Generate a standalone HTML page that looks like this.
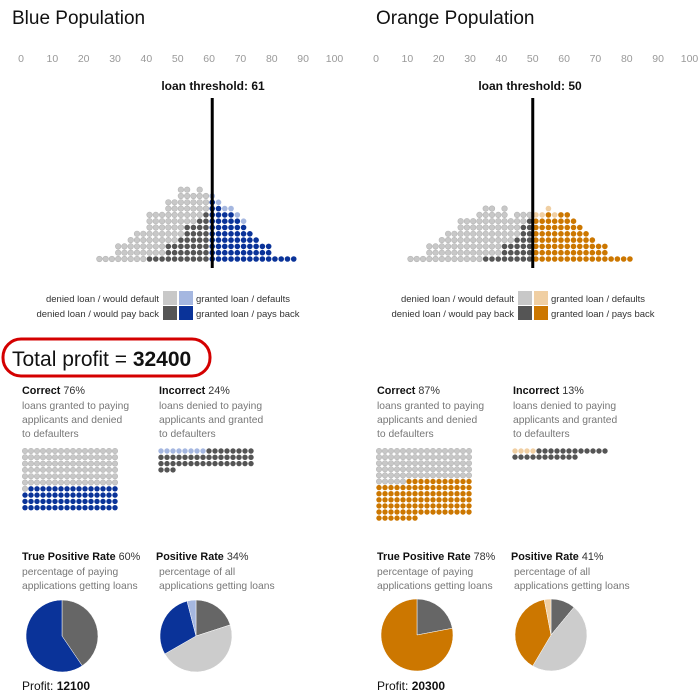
<!DOCTYPE html>
<html><head><meta charset="utf-8"><style>
html,body{margin:0;padding:0;background:#fff;}
svg{display:block;font-family:"Liberation Sans",sans-serif;}
.t{font-size:19px;fill:#111}
.ax{font-size:10.5px;fill:#999}
.th{font-size:12px;font-weight:bold;fill:#111}
.lg{font-size:9.5px;fill:#333}
.h{font-size:10.8px;font-weight:bold;fill:#111}
.p{font-size:10.8px;fill:#333;font-weight:normal}
.d{font-size:10.3px;fill:#777}
</style></head><body>
<svg id="c" width="700" height="696" viewBox="0 0 700 696" xmlns="http://www.w3.org/2000/svg">
<text class="t" x="12" y="24">Blue Population</text>
<text class="t" x="376" y="24">Orange Population</text>
<text class="th" x="213" y="90" text-anchor="middle">loan threshold: 61</text>
<text class="th" x="530" y="90" text-anchor="middle">loan threshold: 50</text>

<g>
<text class="lg" x="159" y="302" text-anchor="end">denied loan / would default</text>
<text class="lg" x="159" y="317" text-anchor="end">denied loan / would pay back</text>
<rect x="163" y="291" width="14" height="14" fill="#c8c8c8"/><rect x="179" y="291" width="14" height="14" fill="#a5b7e0"/>
<rect x="163" y="306" width="14" height="14" fill="#555"/><rect x="179" y="306" width="14" height="14" fill="#0a3399"/>
<text class="lg" x="196" y="302">granted loan / defaults</text>
<text class="lg" x="196" y="317">granted loan / pays back</text>
</g>
<g>
<text class="lg" x="514" y="302" text-anchor="end">denied loan / would default</text>
<text class="lg" x="514" y="317" text-anchor="end">denied loan / would pay back</text>
<rect x="518" y="291" width="14" height="14" fill="#c8c8c8"/><rect x="534" y="291" width="14" height="14" fill="#f0cfa3"/>
<rect x="518" y="306" width="14" height="14" fill="#555"/><rect x="534" y="306" width="14" height="14" fill="#cc7700"/>
<text class="lg" x="551" y="302">granted loan / defaults</text>
<text class="lg" x="551" y="317">granted loan / pays back</text>
</g>

<rect x="3" y="339" width="207" height="37" rx="18" fill="none" stroke="#d40000" stroke-width="3"/>
<text x="12" y="366" font-size="21" fill="#111">Total profit = <tspan font-weight="bold">32400</tspan></text>

<g>
<text class="h" x="22" y="394">Correct <tspan class="p"> 76%</tspan></text>
<text class="d" x="22" y="409">loans granted to paying</text><text class="d" x="22" y="423">applicants and denied</text><text class="d" x="22" y="437">to defaulters</text></g>
<g>
<text class="h" x="159" y="394">Incorrect <tspan class="p"> 24%</tspan></text>
<text class="d" x="159" y="409">loans denied to paying</text><text class="d" x="159" y="423">applicants and granted</text><text class="d" x="159" y="437">to defaulters</text></g>
<g>
<text class="h" x="377" y="394">Correct <tspan class="p"> 87%</tspan></text>
<text class="d" x="377" y="409">loans granted to paying</text><text class="d" x="377" y="423">applicants and denied</text><text class="d" x="377" y="437">to defaulters</text></g>
<g>
<text class="h" x="513" y="394">Incorrect <tspan class="p"> 13%</tspan></text>
<text class="d" x="513" y="409">loans denied to paying</text><text class="d" x="513" y="423">applicants and granted</text><text class="d" x="513" y="437">to defaulters</text></g>

<g>
<text class="h" x="22" y="560">True Positive Rate <tspan class="p"> 60%</tspan></text>
<text class="d" x="22" y="575">percentage of paying</text><text class="d" x="22" y="589">applications getting loans</text>
<text class="h" x="156" y="560">Positive Rate <tspan class="p"> 34%</tspan></text>
<text class="d" x="159" y="575">percentage of all</text><text class="d" x="159" y="589">applications getting loans</text>
<text x="22" y="690" font-size="12" fill="#111">Profit: <tspan font-weight="bold">12100</tspan></text></g>
<g>
<text class="h" x="377" y="560">True Positive Rate <tspan class="p"> 78%</tspan></text>
<text class="d" x="377" y="575">percentage of paying</text><text class="d" x="377" y="589">applications getting loans</text>
<text class="h" x="511" y="560">Positive Rate <tspan class="p"> 41%</tspan></text>
<text class="d" x="514" y="575">percentage of all</text><text class="d" x="514" y="589">applications getting loans</text>
<text x="377" y="690" font-size="12" fill="#111">Profit: <tspan font-weight="bold">20300</tspan></text></g>
</svg>
<script>
const ticks=[0,10,20,30,40,50,60,70,80,90,100];
const blueThreshold=61, orangeThreshold=50;
const blueBins=[25,27,29,31,33,35,37,39,41,43,45,47,49,51,53,55,57,59,61,63,65,67,69,71,73,75,77,79,81,83,85,87];
const blueTotals=[1,1,1,3,3,4,5,5,8,8,8,10,10,12,12,11,12,11,11,10,9,9,8,7,5,4,3,3,1,1,1,1];
const bluePayers=[0,0,0,0,0,0,0,0,1,1,1,3,3,4,6,6,7,8,10,9,8,8,7,6,5,4,3,3,1,1,1,1];
const orangeBins=[11,13,15,17,19,21,23,25,27,29,31,33,35,37,39,41,43,45,47,49,51,53,55,57,59,61,63,65,67,69,71,73,75,77,79,81];
const orangeTotals=[1,1,1,3,3,4,5,5,7,7,7,8,9,9,8,9,7,8,8,8,8,8,9,8,8,8,7,6,5,4,3,3,1,1,1,1];
const orangePayers=[0,0,0,0,0,0,0,0,0,0,0,0,1,1,1,3,3,4,6,7,7,7,8,7,8,8,7,6,5,4,3,3,1,1,1,1];
const blueCorrect=[97,63], blueIncorrect=[8,43];
const orangeCorrect=[85,98], orangeIncorrect=[4,23];
const blueTPR=[0.405,0.595], bluePR=[0.2,0.467,0.293,0.04];
const orangeTPR=[0.22,0.78], orangePR=[0.11,0.475,0.385,0.03];

const NS='http://www.w3.org/2000/svg', svg=document.getElementById('c');
function mk(t,a){const e=document.createElementNS(NS,t);for(const k in a)e.setAttribute(k,a[k]);svg.appendChild(e);return e;}
const LG='#c8c8c8',DG='#555';
function pop(x0,bins,tot,pay,thr,col,lcol,name){
  const sx=v=>x0+v*3.135, sy=r=>259-r*6.3;
  ticks.forEach(t=>{const e=mk('text',{x:sx(t),y:62,'text-anchor':'middle',class:'ax'});e.textContent=t;
    
    });
  bins.forEach((b,i)=>{const g=b>=thr;
    for(let r=0;r<tot[i];r++){const isPay=r<pay[i];
      const fill=g?(isPay?col:lcol):(isPay?DG:LG);
      const c=mk('circle',{cx:sx(b),cy:sy(r),r:2.8,fill:fill,stroke:(!g&&!isPay)?'#b5b5b5':'none','stroke-width':0.6});
      
      }});
  const l=mk('line',{x1:sx(thr),x2:sx(thr),y1:98,y2:268,stroke:'#000','stroke-width':3});
  
  
}
pop(21,blueBins,blueTotals,bluePayers,blueThreshold,'#0a3399','#a5b7e0','blue');
pop(376,orangeBins,orangeTotals,orangePayers,orangeThreshold,'#cc7700','#f0cfa3','orange');

function grid(x0,y0,dy,counts,cols,name){
  let k=0;counts.forEach((n,ci)=>{for(let j=0;j<n;j++,k++){
    const c=mk('circle',{cx:x0+(k%16)*6,cy:y0+Math.floor(k/16)*dy,r:2.7,fill:cols[ci],stroke:cols[ci]==LG?'#b5b5b5':'none','stroke-width':0.6});
    
    }});
}
grid(25,451,6.3,blueCorrect,[LG,'#0a3399'],'blue-correct');
grid(161,451,6.3,blueIncorrect,['#a5b7e0',DG],'blue-incorrect');
grid(379,451,6.1,orangeCorrect,[LG,'#cc7700'],'orange-correct');
grid(515,451,6.1,orangeIncorrect,['#f0cfa3',DG],'orange-incorrect');

function pie(cx,cy,r,fr,cols,name){
  let a=0;fr.forEach((f,i)=>{const a1=a+f*2*Math.PI;
    const p=t=>[cx+r*Math.sin(t),cy-r*Math.cos(t)];
    const [x1,y1]=p(a),[x2,y2]=p(a1);
    const e=mk('path',{d:`M${cx},${cy}L${x1},${y1}A${r},${r} 0 ${f>0.5?1:0} 1 ${x2},${y2}Z`,fill:cols[i],stroke:'#fff','stroke-width':0.5});
    
    
    a=a1;});
}
pie(62,636,36,blueTPR,['#666','#0a3399'],'blue-tpr');
pie(196,636,36,bluePR,['#666','#cccccc','#0a3399','#a5b7e0'],'blue-pr');
pie(417,635,36,orangeTPR,['#666','#cc7700'],'orange-tpr');
pie(551,635,36,orangePR,['#666','#cccccc','#cc7700','#f0cfa3'],'orange-pr');
</script>
</body></html>
